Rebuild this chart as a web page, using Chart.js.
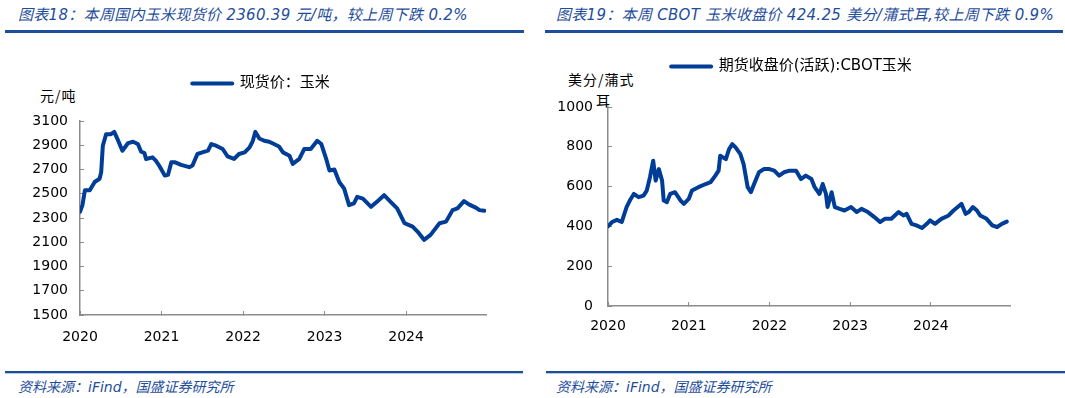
<!DOCTYPE html>
<html>
<head>
<meta charset="utf-8">
<script src="https://cdn.jsdelivr.net/npm/chart.js@4.4.1/dist/chart.umd.min.js"></script>
<style>
  body { margin: 0; background: #fff; width: 1065px; height: 398px; position: relative; overflow: hidden; }
  .title { position: absolute; top: 3px; font: italic 15px "DejaVu Sans", "Noto Sans CJK SC", sans-serif; color: #1e4d9b; white-space: nowrap; letter-spacing: 0.3px; }
  .rule { position: absolute; top: 30px; height: 3px; background: #1e4d9b; }
  .foot { position: absolute; top: 371px; height: 2px; background: #1e4d9b; border-bottom: 1px solid #b9c7e2; }
  .source { position: absolute; top: 376px; font: italic 14px "DejaVu Sans", "Noto Sans CJK SC", sans-serif; color: #1e4d9b; white-space: nowrap; }
  .unit { position: absolute; font: 14px "Noto Sans CJK SC", sans-serif; color: #000; letter-spacing: 1px; white-space: nowrap; }
  canvas { position: absolute; top: 40px; }
</style>
</head>
<body>
<div class="title" style="left:18px">图表18：本周国内玉米现货价 2360.39 元/吨，较上周下跌 0.2%</div>
<div class="rule" style="left:5px; width:519px"></div>
<div class="title" style="left:556px">图表19：本周 CBOT 玉米收盘价 424.25 美分/蒲式耳,较上周下跌 0.9%</div>
<div class="rule" style="left:545px; width:518px"></div>

<div class="unit" style="left:40px; top:85px">元/吨</div>
<div class="unit" style="left:568px; top:69px">美分/蒲式</div>
<div class="unit" style="left:596px; top:90px">耳</div>

<canvas id="chartSpot" width="520" height="320" style="left:0px"></canvas>
<canvas id="chartCbot" width="520" height="320" style="left:545px"></canvas>

<div class="foot" style="left:5px; width:518px"></div>
<div class="source" style="left:18px">资料来源：iFind，国盛证券研究所</div>
<div class="foot" style="left:546px; width:519px"></div>
<div class="source" style="left:556px">资料来源：iFind，国盛证券研究所</div>

<script>
// ejes de años
const yearTicks = [2020, 2021, 2022, 2023, 2024];

// Spot corn price (元/吨)
const spotYears = [2020.00, 2020.03, 2020.06, 2020.12, 2020.18, 2020.24, 2020.26, 2020.28, 2020.32, 2020.38,
    2020.42, 2020.46, 2020.52, 2020.59, 2020.65, 2020.71, 2020.75, 2020.79, 2020.81, 2020.89,
    2020.93, 2020.97, 2021.04, 2021.08, 2021.12, 2021.16, 2021.24, 2021.34, 2021.38, 2021.44,
    2021.50, 2021.57, 2021.61, 2021.67, 2021.75, 2021.81, 2021.89, 2021.95, 2022.02, 2022.08,
    2022.12, 2022.15, 2022.20, 2022.26, 2022.32, 2022.38, 2022.44, 2022.49, 2022.57, 2022.61,
    2022.69, 2022.75, 2022.83, 2022.91, 2022.96, 2023.02, 2023.06, 2023.12, 2023.18, 2023.24,
    2023.30, 2023.36, 2023.40, 2023.47, 2023.57, 2023.65, 2023.73, 2023.81, 2023.89, 2023.98,
    2024.08, 2024.14, 2024.22, 2024.30, 2024.41, 2024.49, 2024.57, 2024.63, 2024.71, 2024.77,
    2024.86, 2024.90, 2024.96];
const spotPrice = [2352, 2406, 2529, 2529, 2597, 2624, 2678, 2896, 2991, 2991,
    3010, 2950, 2855, 2918, 2929, 2910, 2847, 2836, 2787, 2800,
    2773, 2733, 2651, 2657, 2760, 2760, 2738, 2719, 2733, 2828,
    2841, 2855, 2910, 2896, 2869, 2809, 2787, 2828, 2841, 2882,
    2937, 3010, 2956, 2937, 2929, 2910, 2890, 2841, 2814, 2746,
    2787, 2869, 2869, 2937, 2910, 2787, 2692, 2700, 2597, 2542,
    2406, 2420, 2474, 2460, 2392, 2439, 2488, 2433, 2379, 2257,
    2229, 2188, 2120, 2161, 2257, 2270, 2365, 2379, 2439, 2412,
    2384, 2365, 2360];

// CBOT corn close (美分/蒲式耳)
const cbotYears = [2020.00, 2020.05, 2020.11, 2020.17, 2020.23, 2020.27, 2020.32, 2020.38, 2020.44, 2020.48,
    2020.52, 2020.56, 2020.59, 2020.63, 2020.67, 2020.69, 2020.73, 2020.77, 2020.83, 2020.90,
    2020.94, 2021.00, 2021.04, 2021.12, 2021.21, 2021.27, 2021.33, 2021.37, 2021.39, 2021.46,
    2021.50, 2021.54, 2021.58, 2021.64, 2021.68, 2021.73, 2021.77, 2021.81, 2021.87, 2021.93,
    2022.00, 2022.06, 2022.12, 2022.18, 2022.25, 2022.33, 2022.39, 2022.45, 2022.52, 2022.56,
    2022.62, 2022.66, 2022.70, 2022.72, 2022.77, 2022.81, 2022.87, 2022.93, 2023.01, 2023.08,
    2023.14, 2023.22, 2023.30, 2023.37, 2023.43, 2023.51, 2023.60, 2023.66, 2023.70, 2023.76,
    2023.82, 2023.89, 2023.95, 2023.99, 2024.05, 2024.13, 2024.22, 2024.28, 2024.34, 2024.38,
    2024.43, 2024.47, 2024.52, 2024.57, 2024.61, 2024.69, 2024.76, 2024.82, 2024.88, 2024.94];
const cbotPrice = [400, 422, 433, 422, 497, 530, 563, 547, 555, 580,
    647, 730, 630, 688, 630, 530, 522, 563, 572, 530,
    513, 538, 580, 597, 613, 622, 655, 680, 755, 738,
    788, 813, 797, 763, 713, 597, 572, 613, 672, 688,
    688, 680, 655, 672, 680, 680, 638, 655, 638, 597,
    563, 613, 563, 497, 572, 497, 488, 480, 497, 472,
    488, 472, 447, 422, 438, 438, 472, 455, 463, 413,
    405, 392, 413, 430, 413, 438, 455, 480, 500, 513,
    463, 472, 497, 480, 455, 438, 405, 397, 413, 424];

const LINE_COLOR = '#003d96';
const AXIS_COLOR = '#8c8c8c';
const tickFont = { family: '"DejaVu Sans", sans-serif', size: 14 };
const legendFont = { family: '"DejaVu Sans", "Noto Sans CJK SC", sans-serif', size: 15 };

// espacio extra debajo de la leyenda y desplazamiento horizontal
const legendGap = {
    id: 'legendGap',
    beforeInit(chart, args, opts) {
        const fit = chart.legend.fit;
        chart.legend.fit = function () {
            fit.call(this);
            this.height += opts.gap;
        };
    },
    afterLayout(chart, args, opts) {
        chart.legend.left += opts.shift;
        chart.legend.right += opts.shift;
    }
};

function crearGrafico(canvasId, label, years, values, cfg) {
    const ctx = document.getElementById(canvasId).getContext('2d');
    return new Chart(ctx, {
        type: 'line',
        data: {
            datasets: [{
                label: label,
                data: years.map((x, i) => ({ x: x, y: values[i] })),
                borderColor: LINE_COLOR,
                backgroundColor: LINE_COLOR,
                borderWidth: 4,
                borderCapStyle: 'round',
                borderJoinStyle: 'round',
                pointRadius: 0,
                tension: 0
            }]
        },
        options: {
            responsive: false,
            animation: false,
            layout: { padding: cfg.padding },
            scales: {
                x: {
                    type: 'linear',
                    min: 2020,
                    max: 2024.98,
                    afterFit: s => { s.height = cfg.xHeight; },
                    border: { color: AXIS_COLOR, width: 1.5 },
                    grid: { drawOnChartArea: false, tickLength: -4, color: AXIS_COLOR },
                    ticks: {
                        stepSize: 1,
                        includeBounds: false,
                        maxRotation: 0,
                        padding: cfg.xPad,
                        color: '#000',
                        font: tickFont,
                        callback: v => yearTicks.includes(v) ? String(v) : ''
                    }
                },
                y: {
                    min: cfg.yMin,
                    max: cfg.yMax,
                    afterFit: s => { s.width = cfg.yWidth; },
                    border: { color: AXIS_COLOR, width: 1.5 },
                    grid: { drawOnChartArea: false, tickLength: -4, color: AXIS_COLOR },
                    ticks: {
                        stepSize: 200,
                        padding: cfg.yPad,
                        color: '#000',
                        font: tickFont,
                        callback: v => String(v)
                    }
                }
            },
            plugins: {
                legendGap: { gap: cfg.gap, shift: cfg.shift },
                tooltip: { enabled: false },
                legend: {
                    labels: {
                        boxWidth: 40,
                        boxHeight: 0,
                        padding: 10,
                        color: '#000',
                        font: legendFont
                    }
                }
            }
        },
        plugins: [legendGap]
    });
}

crearGrafico('chartSpot', '现货价：玉米', spotYears, spotPrice, {
    padding: { top: 26, left: 0, right: 34, bottom: 0 },
    yWidth: 80, xHeight: 45, gap: 20, shift: 18,
    yMin: 1500, yMax: 3100, xPad: 18, yPad: 16
});

crearGrafico('chartCbot', '期货收盘价(活跃):CBOT玉米', cbotYears, cbotPrice, {
    padding: { top: 9, left: 0, right: 55, bottom: 0 },
    yWidth: 63, xHeight: 54, gap: 23, shift: 14,
    yMin: 0, yMax: 1000, xPad: 16, yPad: 19
});
</script>
</body>
</html>
